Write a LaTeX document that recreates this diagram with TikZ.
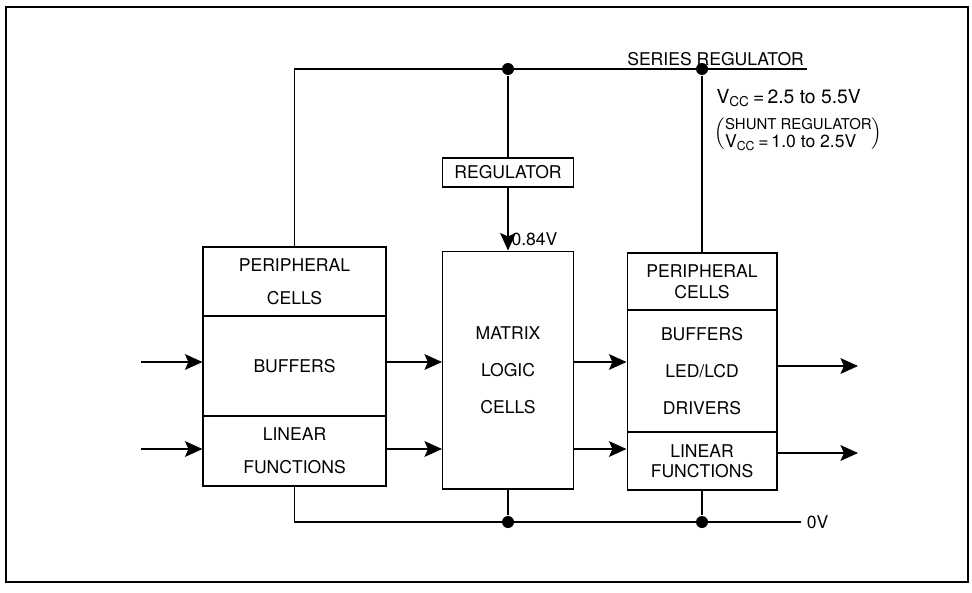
\documentclass[tikz,border=0pt]{standalone}
\usepackage{fontspec}
\setmainfont{TeX Gyre Heros}
\usetikzlibrary{arrows.meta}

\begin{document}
\begin{tikzpicture}[x=0.02cm,y=-0.02cm,>={Stealth[length=10pt,width=9pt,inset=2pt]},
  line width=0.6pt,font=\fontsize{10}{12}\selectfont,
  blk/.style={draw,inner sep=0pt,align=center},
  dot/.style={circle,fill,inner sep=0pt,minimum size=0.24cm},
  loose/.style={font=\fontsize{10}{19}\selectfont},
  looser/.style={font=\fontsize{10}{21}\selectfont}]
  \useasboundingbox (0,0) rectangle (972,592);
  \draw[line width=1pt] (6,7) rectangle (968,582);

  \node[blk,loose,minimum width=3.66cm,minimum height=1.38cm] (lper) at (294.5,281.5) {PERIPHERAL\\CELLS};
  \node[blk,minimum width=3.66cm,minimum height=2cm]          (lbuf) at (294.5,366)   {BUFFERS};
  \node[blk,loose,minimum width=3.66cm,minimum height=1.4cm]  (llin) at (294.5,451)   {LINEAR\\FUNCTIONS};

  \node[blk,minimum width=2.62cm,minimum height=0.58cm]        (reg)  at (508,172.5)   {REGULATOR};
  \node[blk,looser,minimum width=2.62cm,minimum height=4.76cm] (mid)  at (508,370)     {MATRIX\\LOGIC\\CELLS};

  \node[blk,minimum width=3cm,minimum height=1.14cm]           (rper) at (702,281.5)   {PERIPHERAL\\CELLS};
  \node[blk,looser,minimum width=3cm,minimum height=2.44cm]    (rbuf) at (702,371)     {BUFFERS\\LED/LCD\\DRIVERS};
  \node[blk,font=\fontsize{10}{11.5}\selectfont,minimum width=3cm,minimum height=1.16cm] (rlin) at (702,461) {LINEAR\\FUNCTIONS};

  \coordinate (sr)   at (807,69);
  \coordinate (gnd)  at (801,522);
  \coordinate (in1)  at (141,362);
  \coordinate (in2)  at (141,449);
  \coordinate (out1) at (858,366);
  \coordinate (out2) at (858,453);

  \node[anchor=south east,inner sep=1.5pt] (srl) at (sr) {SERIES REGULATOR};
  \node[anchor=west,inner sep=0pt,font=\fontsize{11}{12}\selectfont] (vcc) at (716,98) {V\textsubscript{CC}\,=\,2.5 to 5.5V};
  \node[anchor=west,inner sep=0pt] (shunt) at (714,134)
    {$\Bigl(\begin{tabular}{@{}l@{}}{\fontsize{8.5}{9}\selectfont SHUNT REGULATOR}\\[-2pt]V\textsubscript{CC}\,=\,1.0 to 2.5V\end{tabular}\Bigr)$};
  \node[anchor=west,inner sep=0pt] (v084) at (511,239) {0.84V};
  \node[anchor=west,inner sep=3pt] (zv) at (gnd) {0V};

  \draw (lper.north) |- (sr);
  \node[dot] (d1) at (reg.north |- sr) {};
  \node[dot] (d2) at (rper.north |- sr) {};
  \draw (d1) -- (reg.north);
  \draw (d2) -- (rper.north);
  \draw[->] (reg.south) -- (mid.north);

  \draw (llin.south) |- (gnd);
  \node[dot] (d3) at (mid.south |- gnd) {};
  \node[dot] (d4) at (rlin.south |- gnd) {};
  \draw (mid.south) -- (d3);
  \draw (rlin.south) -- (d4);

  \path[->] (in1) edge (in1 -| lbuf.west)
            (in2) edge (in2 -| llin.west)
            (in1 -| lbuf.east) edge (in1 -| mid.west)
            (in2 -| llin.east) edge (in2 -| mid.west)
            (in1 -| mid.east) edge (in1 -| rbuf.west)
            (in2 -| mid.east) edge (in2 -| rlin.west)
            (out1 -| rbuf.east) edge (out1)
            (out2 -| rlin.east) edge (out2);
\end{tikzpicture}
\end{document}
